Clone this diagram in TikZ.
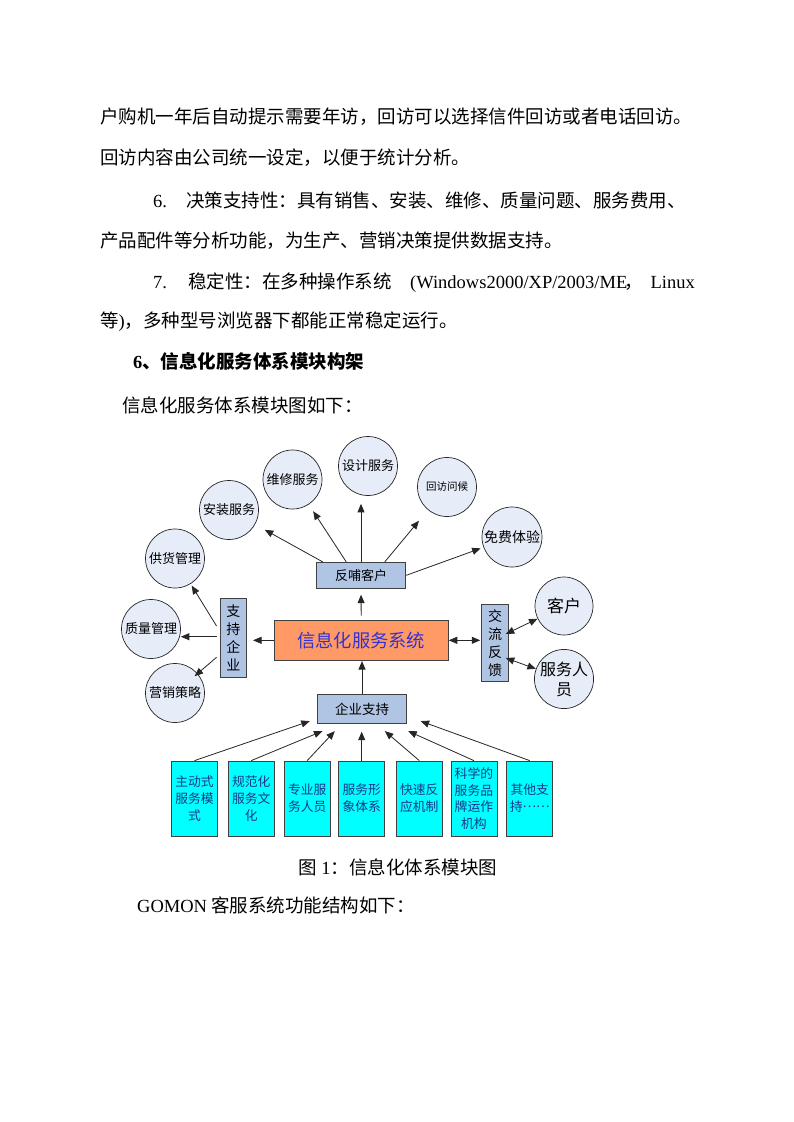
\documentclass[tikz,border=0pt]{standalone}
\usepackage{fontspec}
\setmainfont{Liberation Serif}
\newfontfamily\cjk{Noto Sans CJK SC}
\usetikzlibrary{arrows.meta,calc}
\definecolor{circfill}{RGB}{230,236,248}
\definecolor{boxfill}{RGB}{176,196,228}
\definecolor{orangef}{RGB}{255,153,102}
\definecolor{cyanf}{RGB}{0,255,255}
\definecolor{sysblue}{RGB}{50,50,210}
\definecolor{navytext}{RGB}{25,55,140}
\newcommand\bodyfont{\fontsize{18.5}{22}\selectfont}
\tikzset{
  txt/.style={anchor=base west, inner sep=0pt, font=\bodyfont},
  circ/.style={circle, draw=black!85, fill=circfill, minimum size=59pt, inner sep=0pt, line width=0.7pt, font=\cjk\fontsize{13}{15}\selectfont},
  bbox/.style={draw=black!75, fill=boxfill, line width=0.8pt, inner sep=0pt, font=\cjk\fontsize{13}{15}\selectfont},
  btm/.style={draw=black!75, fill=cyanf, line width=0.8pt, minimum width=46pt, minimum height=75pt, inner sep=0pt, align=center, text=navytext, font=\cjk\fontsize{12.8}{16.8}\selectfont},
  arr/.style={draw=black!85, -{Triangle[length=8.5pt,width=7pt]}, line width=0.8pt},
  darr/.style={draw=black!85, {Triangle[length=8.5pt,width=7pt]}-{Triangle[length=8.5pt,width=7pt]}, line width=0.8pt}
}
\begin{document}
\begin{tikzpicture}[x=1pt,y=-1pt]
\fill[white] (0,0) rectangle (793,1122);
\useasboundingbox (0,0) rectangle (793,1122);

% body text
\node[txt] (l1) at (100,123) {\cjk 户购机一年后自动提示需要年访，回访可以选择信件回访或者电话回访。};
\node[txt] (l2) at (100,164) {\cjk 回访内容由公司统一设定，以便于统计分析。};
\node[txt] (l3a) at (153,207) {6.};
\node[txt] (l3b) at (186,207) {\cjk 决策支持性：具有销售、安装、维修、质量问题、服务费用、};
\node[txt] (l4) at (100,247) {\cjk 产品配件等分析功能，为生产、营销决策提供数据支持。};
\node[txt] (l5a) at (153,288) {7.};
\node[txt] (l5b) at (188,288) {\cjk 稳定性：在多种操作系统};
\node[txt] (l5c) at (410,288) {(Windows2000/XP/2003/ME};
\node[txt] (l5d) at (624,288) {\cjk ，};
\node[txt, anchor=base east] (l5e) at (695,288) {Linux};
\node[txt] (l6) at (100,327) {{\cjk 等}){\cjk ，多种型号浏览器下都能正常稳定运行。}};
\node[txt] (h6) at (133,368) {\bfseries 6{\cjk 、信息化服务体系模块构架}};
\node[txt] (l8) at (122,412) {\cjk 信息化服务体系模块图如下：};
\node[txt] (cap1) at (298,874) {{\cjk 图} 1{\cjk ：}};
\node[txt] (cap2) at (349,874) {\cjk 信息化体系模块图};
\node[txt] (g1) at (137,912) {GOMON};
\node[txt] (g2) at (211,912) {\cjk 客服系统功能结构如下：};

% circles
\node[circ] (anz) at (229,510) {安装服务};
\node[circ] (wx) at (292.5,479.5) {维修服务};
\node[circ] (sj) at (368,466) {设计服务};
\node[circ, font=\cjk\fontsize{10.5}{12}\selectfont] (hf) at (447,487) {回访问候};
\node[circ, minimum size=60pt, font=\cjk\fontsize{14}{16}\selectfont] (mf) at (512,537) {免费体验};
\node[circ] (gh) at (175,558.5) {供货管理};
\node[circ] (zl) at (151,629) {质量管理};
\node[circ] (yx) at (175,693) {营销策略};
\node[circ, minimum size=58pt, font=\cjk\fontsize{17}{20}\selectfont] (kh) at (564,606) {客户};
\node[circ, minimum size=58pt, align=center, font=\cjk\fontsize{16}{20}\selectfont] (fw) at (564,679) {服务人\\员};

% boxes
\node[bbox, minimum width=89.7pt, minimum height=26pt] (fb) at (361,575.3) {反哺客户};
\node[draw=black!75, fill=orangef, line width=0.8pt, inner sep=0pt, minimum width=174.3pt, minimum height=40.7pt, text=sysblue, font=\cjk\fontsize{18.3}{20}\selectfont] (xx) at (361.2,640.3) {信息化服务系统};
\node[bbox, minimum width=26.7pt, minimum height=78.3pt, align=center, font=\cjk\fontsize{14}{17.8}\selectfont] (zc) at (233.3,638) {支\\持\\企\\业};
\node[bbox, minimum width=26.7pt, minimum height=77.7pt, align=center, font=\cjk\fontsize{14}{17.8}\selectfont] (jl) at (495,643) {交\\流\\反\\馈};
\node[bbox, minimum width=88.4pt, minimum height=28.6pt, font=\cjk\fontsize{13.5}{15}\selectfont] (qy) at (362,709) {企业支持};

% bottom boxes
\node[btm] (b1) at (194.5,798.5) {主动式\\服务模\\式};
\node[btm] (b2) at (251.2,798.5) {规范化\\服务文\\化};
\node[btm] (b3) at (307.2,798.5) {专业服\\务人员};
\node[btm] (b4) at (361.7,798.5) {服务形\\象体系};
\node[btm] (b5) at (419.3,798.5) {快速反\\应机制};
\node[btm] (b6) at (473.9,798.5) {科学的\\服务品\\牌运作\\机构};
\node[btm] (b7) at (529.7,798.5) {其他支\\持\raisebox{4pt}{……}};

% arrows from 反哺客户
\draw[arr, shorten >=11pt] ($(fb.north west)+(7,0)$) -- (anz);
\draw[arr, shorten >=8pt] ($(fb.north west)+(30.5,0)$) -- (wx);
\draw[arr, shorten >=8pt] (fb.north) -- (fb.north |- sj.south);
\draw[arr, shorten >=14pt] ($(fb.north west)+(69,0)$) -- (hf);
\draw[arr, shorten >=3pt] (fb.east) -- (mf);

% centre connections
\draw[arr, shorten <=4pt, shorten >=6pt] (xx.north) -- (fb.south);
\draw[arr] (qy.north) -- (qy.north |- xx.south);
\draw[arr, shorten >=6pt] (xx.west) -- (xx.west -| zc.east);
\draw[darr, shorten >=1pt] (xx.east) -- (xx.east -| jl.west);
\draw[darr] ($(jl.east)+(-3,-9)$) -- (kh);
\draw[darr] ($(jl.east)+(-3,15)$) -- (fw);

% arrows from 支持企业
\coordinate (zs2) at ($(zc.west)+(-3,-1.3)$);
\draw[arr, shorten >=2pt] ($(zc.west)+(-3,-12)$) -- (gh);
\draw[arr] (zs2) -- (zs2 -| zl.east);
\draw[arr, shorten >=-4pt] ($(zc.west)+(-3,19.3)$) -- (yx);

% arrows into 企业支持
\draw[arr] (b1.north) -- ($(qy.south west)+(-7.6,-2.6)$);
\draw[arr] (b2.north) -- ($(qy.south west)+(5,7.4)$);
\draw[arr] (b3.north) -- ($(qy.south west)+(17.4,7.4)$);
\draw[arr, shorten >=8pt] (b4.north) -- (b4.north |- qy.south);
\draw[arr] (b5.north) -- ($(qy.south east)+(-21.7,7.4)$);
\draw[arr] (b6.north) -- ($(qy.south east)+(1.6,7.4)$);
\draw[arr] (b7.north) -- ($(qy.south east)+(14,-2.6)$);
\end{tikzpicture}
\end{document}
